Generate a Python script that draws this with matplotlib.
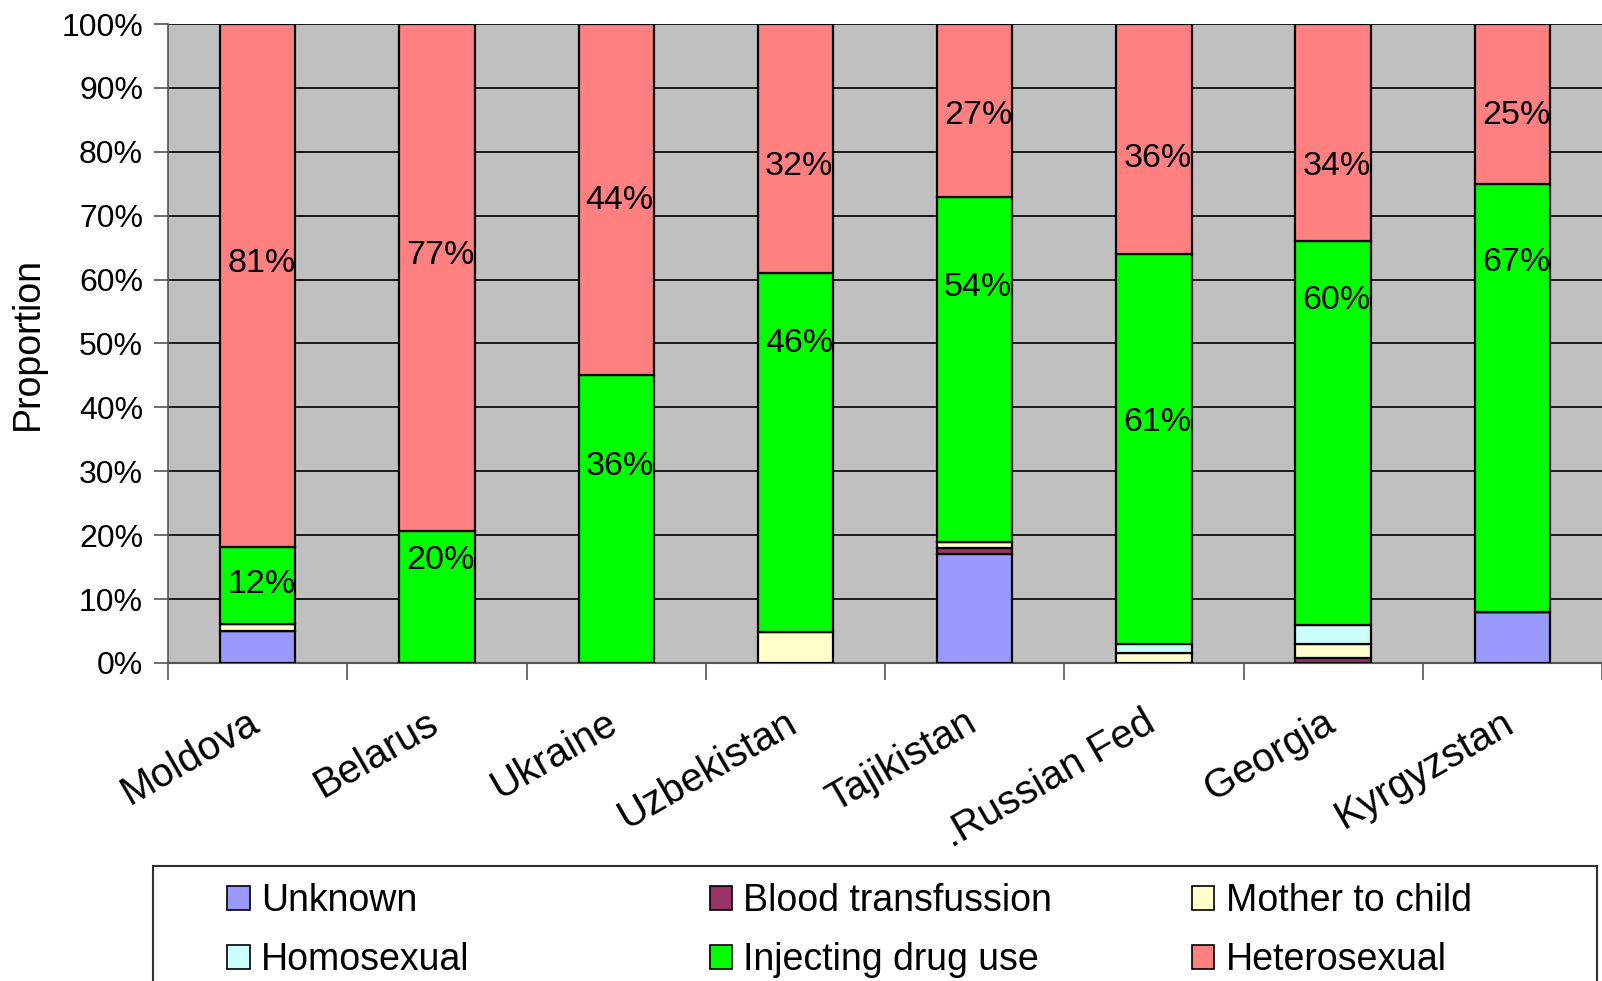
"""
Routes of HIV transmission by country, as a 100% stacked bar chart.
"""

import numpy as np
import matplotlib.pyplot as plt
from matplotlib.patches import Patch, Rectangle
from matplotlib.transforms import ScaledTranslation


# ============== DATA ==============

COUNTRIES = ['Moldova', 'Belarus', 'Ukraine', 'Uzbekistan', 'Tajikistan',
             '.Russian Fed', 'Georgia', 'Kyrgyzstan']

# Reported share of cases per route (%), bars are normalised to 100%
UNKNOWN = [5, 0, 0, 0, 17, 0, 0, 8]
BLOOD_TRANSFUSION = [0, 0, 0, 0, 1, 0, 0.7, 0]
MOTHER_TO_CHILD = [1, 0, 0, 4, 1, 1.5, 2.2, 0]
HOMOSEXUAL = [0, 0, 0, 0, 0, 1.5, 3.1, 0]
INJECTING_DRUG_USE = [12, 20, 36, 46, 54, 61, 60, 67]
HETEROSEXUAL = [81, 77, 44, 32, 27, 36, 34, 25]

# Height (in % of the axis) at which the value labels sit
IDU_LABEL_Y = [12.3, 16.0, 30.8, 50.0, 58.7, 37.7, 56.7, 62.7]
HETERO_LABEL_Y = [62.5, 63.8, 72.4, 77.7, 85.7, 79.0, 77.7, 85.7]

Y_TICKS = [0, 10, 20, 30, 40, 50, 60, 70, 80, 90, 100]


# ============== STYLE ==============

FONT = ['Liberation Sans', 'DejaVu Sans']
SERIES = [
    ('Unknown', UNKNOWN, '#9999FF'),
    ('Blood transfussion', BLOOD_TRANSFUSION, '#993366'),
    ('Mother to child', MOTHER_TO_CHILD, '#FFFFCC'),
    ('Homosexual', HOMOSEXUAL, '#CCFFFF'),
    ('Injecting drug use', INJECTING_DRUG_USE, '#00FF00'),
    ('Heterosexual', HETEROSEXUAL, '#FF8080'),
]
BAR_WIDTH = 0.42
PLOT_BG = '#C0C0C0'


def main():
    plt.rcParams['font.family'] = FONT

    fig = plt.figure(figsize=(16.02, 9.81), dpi=100)
    ax = fig.add_axes([0.1049, 0.3242, 0.8951, 0.6513])
    ax.set_facecolor(PLOT_BG)

    x = np.arange(len(COUNTRIES))
    totals = np.sum([np.array(vals, dtype=float) for _, vals, _ in SERIES], axis=0)

    # Stack each route, scaled so each country sums to 100%
    bottom = np.zeros(len(COUNTRIES))
    for name, vals, color in SERIES:
        share = np.array(vals, dtype=float) / totals * 100
        ax.bar(x, share, BAR_WIDTH, bottom=bottom, color=color,
               edgecolor='black', linewidth=1.6, zorder=3)
        bottom += share

    # Value labels for the two main routes
    for i in range(len(COUNTRIES)):
        ax.text(x[i] + 0.02, IDU_LABEL_Y[i], f'{INJECTING_DRUG_USE[i]}%',
                ha='center', va='center', fontsize=24.5, zorder=4)
        ax.text(x[i] + 0.02, HETERO_LABEL_Y[i], f'{HETEROSEXUAL[i]}%',
                ha='center', va='center', fontsize=24.5, zorder=4)

    # Axes
    ax.set_xlim(-0.5, len(COUNTRIES) - 0.5)
    ax.set_ylim(0, 100)
    ax.set_yticks(Y_TICKS)
    ax.set_yticklabels([f'{t}%' for t in Y_TICKS], fontsize=23)
    ax.yaxis.grid(True, color='black', linewidth=1.2, zorder=1)
    ax.set_axisbelow(True)
    ax.tick_params(axis='y', length=10, width=1.2, color='#555555', pad=8)

    ax.set_xticks(np.arange(-0.5, len(COUNTRIES)), minor=True)
    ax.set_xticks(x)
    ax.set_xticklabels(COUNTRIES, fontsize=29, rotation=30, ha='right',
                       rotation_mode='anchor')
    ax.tick_params(axis='x', which='major', length=0, pad=29)
    ax.tick_params(axis='x', which='minor', length=12, width=1.2, color='#555555')
    shift = ScaledTranslation(-8 / 72, 0, fig.dpi_scale_trans)
    for label in ax.get_xticklabels():
        label.set_transform(label.get_transform() + shift)

    for side in ('top', 'right'):
        ax.spines[side].set_visible(False)
    ax.spines['left'].set_color('#555555')
    ax.spines['left'].set_linewidth(1.2)
    ax.spines['bottom'].set_color('#555555')
    ax.spines['bottom'].set_linewidth(1.5)

    ax.set_ylabel('Proportion', fontsize=27)
    ax.yaxis.set_label_coords(-0.085, 0.5)

    # Legend frame, running off the bottom edge
    fig.add_artist(Rectangle((0.0955, -0.05), 0.9014, 0.1672,
                             transform=fig.transFigure, facecolor='white',
                             edgecolor='#333333', linewidth=1.5))

    # Legend, three columns filled row by row
    col_x = [0.1420, 0.4430, 0.7440]
    handles = [Patch(facecolor=c, edgecolor='black', linewidth=1.2, label=n)
               for n, _, c in SERIES]
    for j in range(3):
        fig.legend(handles=[handles[j], handles[j + 3]], loc='upper left',
                   bbox_to_anchor=(col_x[j], 0.1000), frameon=False,
                   fontsize=27, handlelength=0.6, handleheight=0.6,
                   handletextpad=0.3, labelspacing=0.62, borderpad=0,
                   borderaxespad=0)

    fig.savefig('out.png', dpi=100)


if __name__ == '__main__':
    main()
